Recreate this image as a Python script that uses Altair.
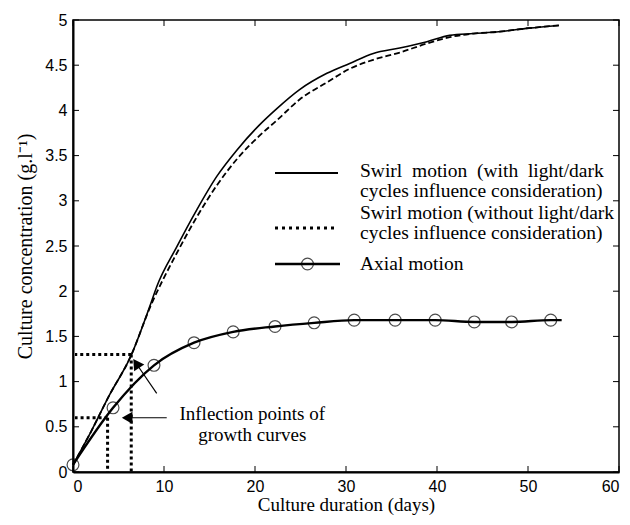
import altair as alt
import pandas as pd

# ---- data ----
swirl_x = [0, 2, 4, 6.3, 8.5, 9.2, 11.4, 13.6, 15.8, 18, 20.5, 22.4, 24.9, 27.9, 30.4, 33, 35.9, 38.9, 41.4, 44, 46.8, 50.1, 53.4]
swirl_y = [0.08, 0.45, 0.85, 1.27, 1.85, 2.05, 2.49, 2.90, 3.27, 3.56, 3.84, 4.02, 4.23, 4.41, 4.52, 4.63, 4.69, 4.76, 4.83, 4.85, 4.87, 4.91, 4.94]

nolight_x = [0, 2, 4, 6.3, 8.5, 11.4, 13.6, 15.8, 18, 20.5, 22.4, 24.9, 27.9, 30.4, 33, 35.9, 38.9, 41.4, 44, 46.8, 50.1, 53.4]
nolight_y = [0.08, 0.45, 0.85, 1.27, 1.83, 2.42, 2.82, 3.17, 3.46, 3.72, 3.89, 4.12, 4.31, 4.46, 4.56, 4.64, 4.74, 4.81, 4.85, 4.87, 4.91, 4.94]

axial_x = [0, 4.4, 8.9, 13.3, 17.6, 22.2, 26.5, 30.9, 35.4, 39.8, 44.1, 48.2, 52.5, 53.7]
axial_y = [0.08, 0.71, 1.18, 1.43, 1.55, 1.61, 1.65, 1.68, 1.68, 1.68, 1.66, 1.66, 1.68, 1.68]
axial_marker_count = 13  # circles drawn on the first 13 points

infl_x = [3.8, 6.4]
infl_y = [0.60, 1.30]

x_ticks = [0, 10, 20, 30, 40, 50, 60]
y_ticks = [0, 0.5, 1, 1.5, 2, 2.5, 3, 3.5, 4, 4.5, 5]

legend_labels = [
    ["Swirl\u00a0\u00a0motion\u00a0\u00a0(with\u00a0\u00a0light/dark", "cycles influence consideration)"],
    ["Swirl motion (without light/dark", "cycles influence consideration)"],
    ["Axial motion"],
]

# arrows: tail -> tip
arrow_tail_x = [10.3, 9.2]
arrow_tail_y = [0.60, 0.87]
arrow_tip_x = [5.95, 6.95]
arrow_tip_y = [0.60, 1.20]
arrow_shape = ["triangle-left", "triangle-up"]
arrow_angle = [0, 326]

note_lines = ["Inflection points of", "growth curves"]
note_x = [19.7, 19.7]
note_y = [0.64, 0.41]

W, H = 546, 452
SERIF = "Liberation Serif"
SANS = "Liberation Sans"

xs = alt.Scale(domain=[0, 60], nice=False, zero=False)
ys = alt.Scale(domain=[0, 5], nice=False, zero=False)

df_swirl = pd.DataFrame({"x": swirl_x, "y": swirl_y})
df_nolight = pd.DataFrame({"x": nolight_x, "y": nolight_y})
df_axial = pd.DataFrame({"x": axial_x, "y": axial_y})
df_axial_pts = df_axial.iloc[:axial_marker_count]
one = pd.DataFrame({"a": [0]})

XT = "Culture duration (days)"
YT = "Culture concentration (g.l\u207b\u00b9)"
x_axis = alt.Axis(values=x_ticks, tickSize=0, grid=False, labelFont=SANS, labelFontSize=16,
                  labelColor="black", domainColor="black", domainWidth=2, labelPadding=6,
                  title=XT, titleFont=SERIF, titleFontSize=19,
                  titleFontWeight="normal", titleColor="black", titlePadding=1, format="d")
y_axis = alt.Axis(values=y_ticks, tickSize=0, grid=False, labelFont=SANS, labelFontSize=16,
                  labelColor="black", domainColor="black", domainWidth=2, labelPadding=6,
                  title=YT, titleFont=SERIF, titleFontSize=20,
                  titleFontWeight="normal", titleColor="black", titlePadding=9, format="~r")


def X(f):
    return alt.X(f, scale=xs, axis=x_axis, title=XT)


def Y(f):
    return alt.Y(f, scale=ys, axis=y_axis, title=YT)


swirl = alt.Chart(df_swirl).mark_line(color="black", strokeWidth=1.6, interpolate="monotone").encode(
    x=X("x:Q"), y=Y("y:Q"))
nolight = alt.Chart(df_nolight).mark_line(color="black", strokeWidth=1.8, strokeDash=[6, 3],
                                          interpolate="monotone").encode(x=X("x:Q"), y=Y("y:Q"))
axial = alt.Chart(df_axial).mark_line(color="black", strokeWidth=2.4, interpolate="monotone").encode(
    x=X("x:Q"), y=Y("y:Q"))
axial_pts = alt.Chart(df_axial_pts).mark_point(shape="circle", size=140, filled=False, color="black",
                                               strokeWidth=1.2).encode(x=X("x:Q"), y=Y("y:Q"))

# inward ticks on all four sides
dxt = pd.DataFrame({"v": x_ticks})
dyt = pd.DataFrame({"v": y_ticks})
tick_style = dict(color="black", strokeWidth=1)
ticks = [
    alt.Chart(dxt).mark_rule(**tick_style).encode(x=X("v:Q"), y=alt.value(H), y2=alt.value(H - 6)),
    alt.Chart(dxt).mark_rule(**tick_style).encode(x=X("v:Q"), y=alt.value(0), y2=alt.value(6)),
    alt.Chart(dyt).mark_rule(**tick_style).encode(y=Y("v:Q"), x=alt.value(0), x2=alt.value(6)),
    alt.Chart(dyt).mark_rule(**tick_style).encode(y=Y("v:Q"), x=alt.value(W), x2=alt.value(W - 6)),
]

# dotted guide lines to inflection points
df_inf = pd.DataFrame({"x": infl_x, "y": infl_y})
guide_h = alt.Chart(df_inf).mark_rule(color="black", strokeWidth=3, strokeDash=[3, 3]).encode(
    x=X("x:Q"), x2=alt.value(2), y=Y("y:Q"))
guide_v = alt.Chart(df_inf).mark_rule(color="black", strokeWidth=3, strokeDash=[3, 3]).encode(
    x=X("x:Q"), y=Y("y:Q"), y2=alt.value(H))

# arrows
df_arr = pd.DataFrame({"tx": arrow_tail_x, "ty": arrow_tail_y, "hx": arrow_tip_x, "hy": arrow_tip_y,
                       "shape": arrow_shape, "angle": arrow_angle})
arr_lines = alt.Chart(df_arr).mark_rule(color="black", strokeWidth=1.2).encode(
    x=X("tx:Q"), x2="hx", y=Y("ty:Q"), y2="hy")
arr_heads = alt.Chart(df_arr).mark_point(filled=True, color="black", size=150, opacity=1).encode(
    x=X("hx:Q"), y=Y("hy:Q"),
    shape=alt.Shape("shape:N", scale=None), angle=alt.Angle("angle:Q", scale=None))

# note text
df_note = pd.DataFrame({"t": note_lines, "x": note_x, "y": note_y})
note = alt.Chart(df_note).mark_text(font=SERIF, fontSize=19, color="black", align="center",
                                    baseline="middle").encode(x=X("x:Q"), y=Y("y:Q"), text="t:N")

# custom legend (pixel placement inside plot)
LX0, LX1, TX = 202, 265, 287
row_y = [[151, 171], [193, 213], [244]]
leg = []
leg.append(alt.Chart(one).mark_rule(color="black", strokeWidth=2).encode(
    x=alt.value(LX0), x2=alt.value(LX1), y=alt.value(153)))
leg.append(alt.Chart(one).mark_rule(color="black", strokeWidth=3, strokeDash=[3, 4]).encode(
    x=alt.value(LX0), x2=alt.value(LX1), y=alt.value(208)))
leg.append(alt.Chart(one).mark_rule(color="black", strokeWidth=2.4).encode(
    x=alt.value(LX0), x2=alt.value(LX1 + 2), y=alt.value(244)))
leg.append(alt.Chart(one).mark_point(shape="circle", size=140, filled=False, color="black", strokeWidth=1.2).encode(
    x=alt.value((LX0 + LX1 + 2) / 2), y=alt.value(244)))
for lines, ys_ in zip(legend_labels, row_y):
    for t, yy in zip(lines, ys_):
        leg.append(alt.Chart(one).mark_text(font=SERIF, fontSize=19.5, color="black", align="left",
                                            baseline="middle").encode(
            x=alt.value(TX), y=alt.value(yy), text=alt.value(t)))

chart = alt.layer(
    swirl, nolight, axial, axial_pts, guide_h, guide_v, arr_lines, arr_heads, note, *ticks, *leg
).properties(
    width=W, height=H,
    padding={"left": 65, "top": 12, "right": 2, "bottom": 45},
    autosize=alt.AutoSizeParams(type="none"),
    background="white",
).configure_view(stroke="black", strokeWidth=1.5)

chart.save("out.html", embed_options={"renderer": "svg", "actions": False})
